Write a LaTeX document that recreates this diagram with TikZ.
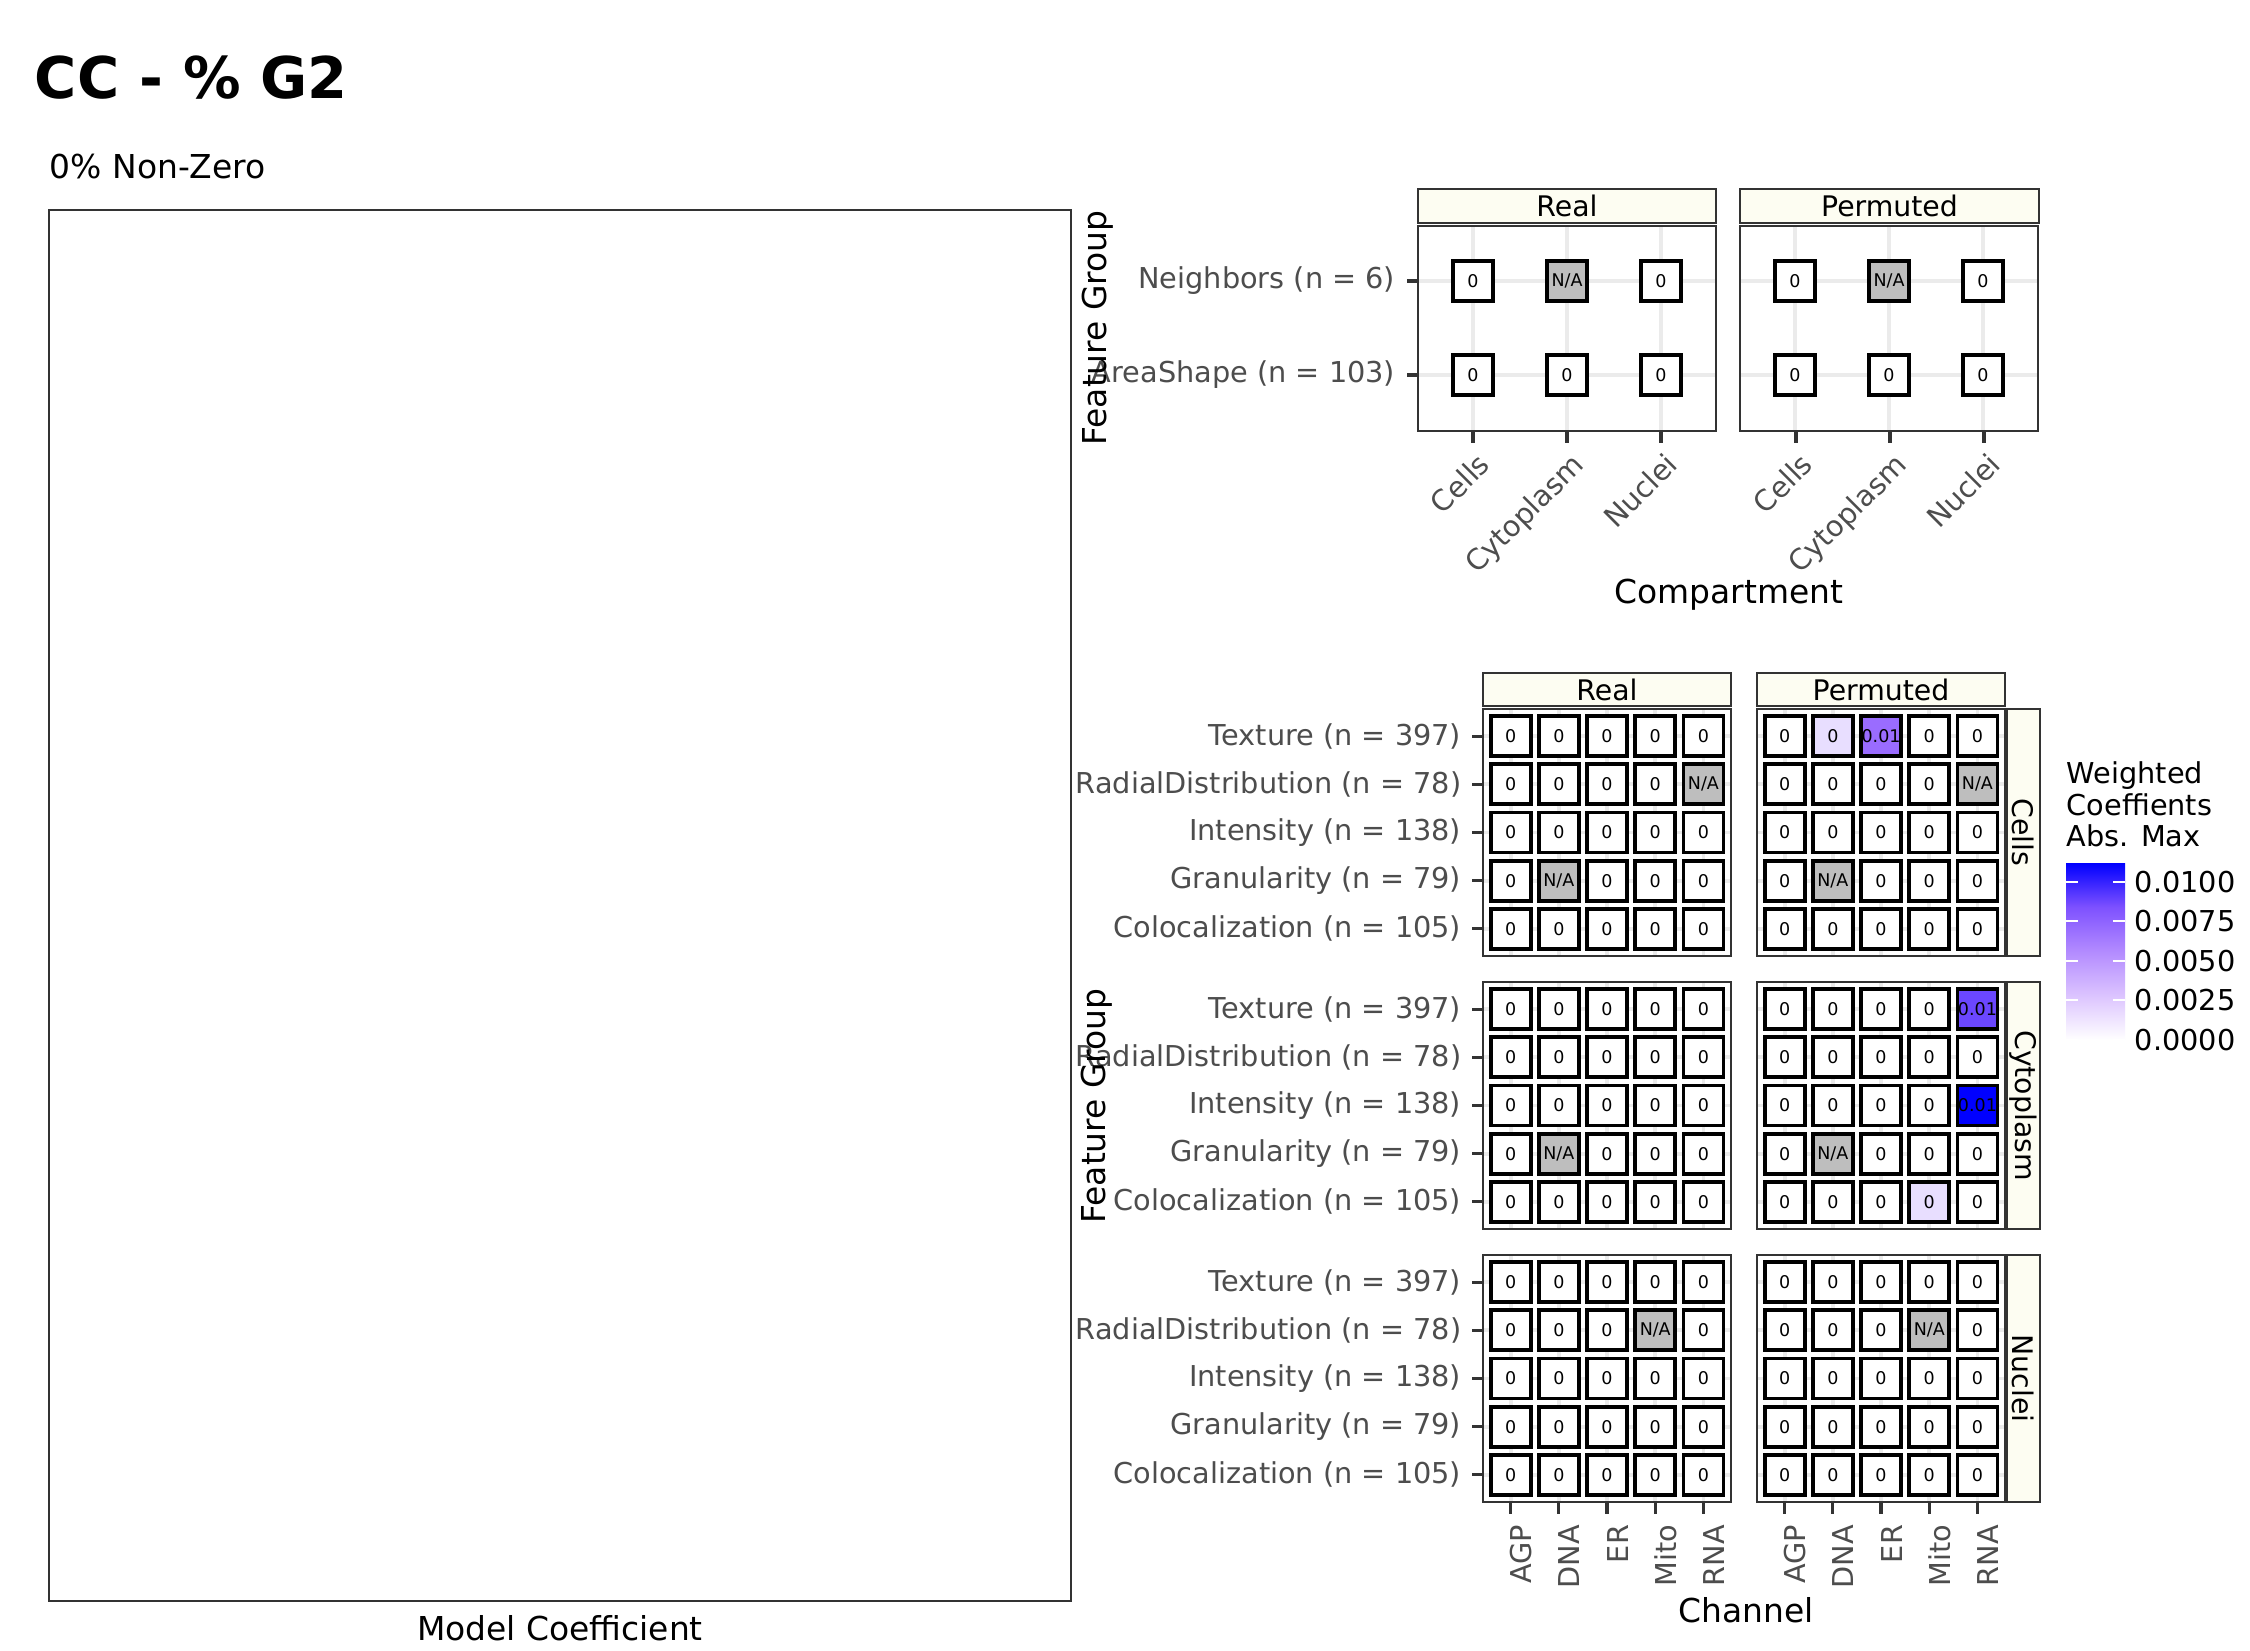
\documentclass[tikz,border=0pt]{standalone}
\usepackage{fontspec}
\setmainfont{DejaVu Sans}
\definecolor{gtwenty}{HTML}{333333}
\definecolor{gthirty}{HTML}{4D4D4D}
\definecolor{gridc}{HTML}{EBEBEB}
\definecolor{stripc}{HTML}{FDFDF2}
\definecolor{fillZ}{HTML}{FFFFFF}
\definecolor{fillN}{HTML}{BEBEBE}
\definecolor{fillL}{HTML}{E8DEFF}
\definecolor{fillP}{HTML}{9A6CFF}
\definecolor{fillQ}{HTML}{6B47FF}
\definecolor{fillB}{HTML}{0000FF}
\definecolor{labA}{HTML}{DCC4FF}
\definecolor{labB}{HTML}{B38BFF}
\definecolor{labC}{HTML}{7E51FF}
\pgfdeclareverticalshading{legbar}{100bp}{color(0bp)=(white); color(25bp)=(white); color(37.5bp)=(labA); color(50bp)=(labB); color(62.5bp)=(labC); color(75bp)=(fillB); color(100bp)=(fillB)}
\def\txtZ{0}\def\txtN{N/A}\def\txtL{0}\def\txtP{0.01}\def\txtQ{0.01}\def\txtB{0.01}
\newcommand\fsz[1]{\fontsize{#1}{#1}\selectfont}
\tikzset{
  axtext/.style={font=\fsz{6.9}, text=gthirty, inner sep=0},
  axtitle/.style={font=\fsz{7.9}, inner sep=0},
  striptext/.style={font=\fsz{6.8}, inner sep=0},
  legtext/.style={font=\fsz{6.9}, inner sep=0},
  tilebox/.style={draw=black, line width=0.9pt, minimum size=9.6pt, inner sep=0, font=\fsz{4.2}},
  panelbox/.style={draw=gtwenty, line width=0.55pt},
  stripbox/.style={draw=gtwenty, line width=0.55pt, fill=stripc},
  gridline/.style={draw=gridc, line width=0.9pt},
  tickline/.style={draw=gtwenty, line width=0.75pt},
}
% bottom heatmap panel: name, xleft, ytop, rows
\newcommand\bpanel[4]{%
  \fill[white] (#2,#3) rectangle ++(248,247);
  \foreach \k in {0,...,4}{
    \draw[gridline] ({#2+27.6+\k*48.2},#3) -- ++(0,247);
    \draw[gridline] (#2,{#3+27.1+\k*48.2}) -- ++(248,0);
  }
  \foreach \rowdata [count=\ri] in {#4}{
    \foreach \code [count=\ci] in \rowdata{
      \node[tilebox, fill=fill\code] (#1-\ri-\ci) at ({#2+27.6+(\ci-1)*48.2},{#3+27.1+(\ri-1)*48.2}) {\csname txt\code\endcsname};
    }
  }
  \draw[panelbox] (#2,#3) rectangle ++(248,247);
}
% top heatmap panel: name, xleft
\newcommand\tpanel[2]{%
  \fill[white] (#2,226) rectangle ++(298,205);
  \foreach \k in {0,1,2}{
    \draw[gridline] ({#2+55+\k*94},226) -- ++(0,205);
  }
  \foreach \k in {0,1}{
    \draw[gridline] (#2,{281+\k*94}) -- ++(298,0);
  }
  \foreach \code [count=\ci] in {Z,N,Z}{
    \node[tilebox, fill=fill\code] (#1-1-\ci) at ({#2+55+(\ci-1)*94},281) {\csname txt\code\endcsname};
  }
  \foreach \code [count=\ci] in {Z,Z,Z}{
    \node[tilebox, fill=fill\code] (#1-2-\ci) at ({#2+55+(\ci-1)*94},375) {\csname txt\code\endcsname};
  }
  \draw[panelbox] (#2,226) rectangle ++(298,205);
}
\begin{document}
\begin{tikzpicture}[x=0.24pt, y=-0.24pt]
\useasboundingbox (0,0) rectangle (2250,1650);
\fill[white] (0,0) rectangle (2250,1650);

% ---- title and left panel
\node[inner sep=0, anchor=base west, font=\fsz{13.8}\bfseries] (title) at (34,98) {CC - \% G2};
\node[inner sep=0, anchor=base west, font=\fsz{7.9}] (subtitle) at (49,178) {0\% Non-Zero};
\draw[panelbox] (49,210) rectangle (1071,1601);
\node[axtitle, anchor=base] (mclab) at (560,1640) {Model Coefficient};

% ---- top heatmap
\tpanel{treal}{1418}
\tpanel{tperm}{1740}
\draw[stripbox] (1418,189) rectangle (1716,223);
\node[striptext] (tsreal) at (1567,206) {Real};
\draw[stripbox] (1740,189) rectangle (2039,223);
\node[striptext] (tsperm) at (1889.5,206) {Permuted};
\foreach \yy/\lab [count=\i] in {281/Neighbors (n = 6), 375/AreaShape (n = 103)}{
  \draw[tickline] (1407,\yy) -- (1418,\yy);
  \node[axtext, anchor=east] (tyl-\i) at (1396,\yy) {\lab};
}
\foreach \xx in {1473,1567,1661,1796,1890,1984}{
  \draw[tickline] (\xx,431) -- (\xx,443);
}
\foreach \xx/\lab [count=\i] in {1473/Cells,1567/Cytoplasm,1661/Nuclei,1796/Cells,1890/Cytoplasm,1984/Nuclei}{
  \node[axtext, rotate=45, anchor=north east] (txl-\i) at (\xx+3,450) {\lab};
}
\node[axtitle, anchor=base] (tcomp) at (1729,603) {Compartment};
\node[axtitle, rotate=90, anchor=base] (tfg) at (1106,328) {Feature Group};

% ---- bottom heatmap
\bpanel{creal}{1483}{709}{{Z,Z,Z,Z,Z},{Z,Z,Z,Z,N},{Z,Z,Z,Z,Z},{Z,N,Z,Z,Z},{Z,Z,Z,Z,Z}}
\bpanel{cperm}{1757}{709}{{Z,L,P,Z,Z},{Z,Z,Z,Z,N},{Z,Z,Z,Z,Z},{Z,N,Z,Z,Z},{Z,Z,Z,Z,Z}}
\bpanel{yreal}{1483}{982}{{Z,Z,Z,Z,Z},{Z,Z,Z,Z,Z},{Z,Z,Z,Z,Z},{Z,N,Z,Z,Z},{Z,Z,Z,Z,Z}}
\bpanel{yperm}{1757}{982}{{Z,Z,Z,Z,Q},{Z,Z,Z,Z,Z},{Z,Z,Z,Z,B},{Z,N,Z,Z,Z},{Z,Z,Z,L,Z}}
\bpanel{nreal}{1483}{1255}{{Z,Z,Z,Z,Z},{Z,Z,Z,N,Z},{Z,Z,Z,Z,Z},{Z,Z,Z,Z,Z},{Z,Z,Z,Z,Z}}
\bpanel{nperm}{1757}{1255}{{Z,Z,Z,Z,Z},{Z,Z,Z,N,Z},{Z,Z,Z,Z,Z},{Z,Z,Z,Z,Z},{Z,Z,Z,Z,Z}}
% strips
\draw[stripbox] (1483,673) rectangle (1731,706);
\node[striptext] (bsreal) at (1607,689.5) {Real};
\draw[stripbox] (1757,673) rectangle (2005,706);
\node[striptext] (bsperm) at (1881,689.5) {Permuted};
\foreach \yt/\lab [count=\i] in {709/Cells,982/Cytoplasm,1255/Nuclei}{
  \draw[stripbox] (2007,\yt) rectangle (2040,\yt+247);
  \node[striptext, rotate=-90] (rs-\i) at (2023.5,\yt+123.5) {\lab};
}
% y axis labels
\foreach \yt [count=\p] in {709,982,1255}{
  \foreach \lab [count=\i] in {Texture (n = 397),RadialDistribution (n = 78),Intensity (n = 138),Granularity (n = 79),Colocalization (n = 105)}{
    \draw[tickline] (1472,{\yt+27.1+(\i-1)*48.2}) -- (1483,{\yt+27.1+(\i-1)*48.2});
    \node[axtext, anchor=east] (byl-\p-\i) at (1462,{\yt+27.1+(\i-1)*48.2}) {\lab};
  }
}
% x axis labels
\foreach \xl [count=\p] in {1483,1757}{
  \foreach \lab [count=\i] in {AGP,DNA,ER,Mito,RNA}{
    \draw[tickline] ({\xl+27.6+(\i-1)*48.2},1502) -- ({\xl+27.6+(\i-1)*48.2},1514);
    \node[axtext, rotate=90, anchor=base east] (bxl-\p-\i) at ({\xl+27.6+(\i-1)*48.2+21},1524) {\lab};
  }
}
\node[axtitle, anchor=base] (bchan) at (1746,1622) {Channel};
\node[axtitle, rotate=90, anchor=base] (bfg) at (1105,1106) {Feature Group};

% ---- legend
\node[legtext, anchor=base west] (lt1) at (2066,783) {Weighted};
\node[legtext, anchor=base west] (lt2) at (2066,815) {Coeffients};
\node[legtext, anchor=base west] (lt3) at (2066,846) {Abs. Max};
\shade[shading=legbar] (2066,863) rectangle (2125,1040);
\foreach \yy/\lab [count=\i] in {882/0.0100,921/0.0075,961/0.0050,1000/0.0025,1040/0.0000}{
  \draw[white, line width=0.4pt] (2066,\yy) -- (2078,\yy);
  \draw[white, line width=0.4pt] (2113,\yy) -- (2125,\yy);
  \node[legtext, anchor=west] (ll-\i) at (2134,\yy) {\lab};
}
\end{tikzpicture}
\end{document}
